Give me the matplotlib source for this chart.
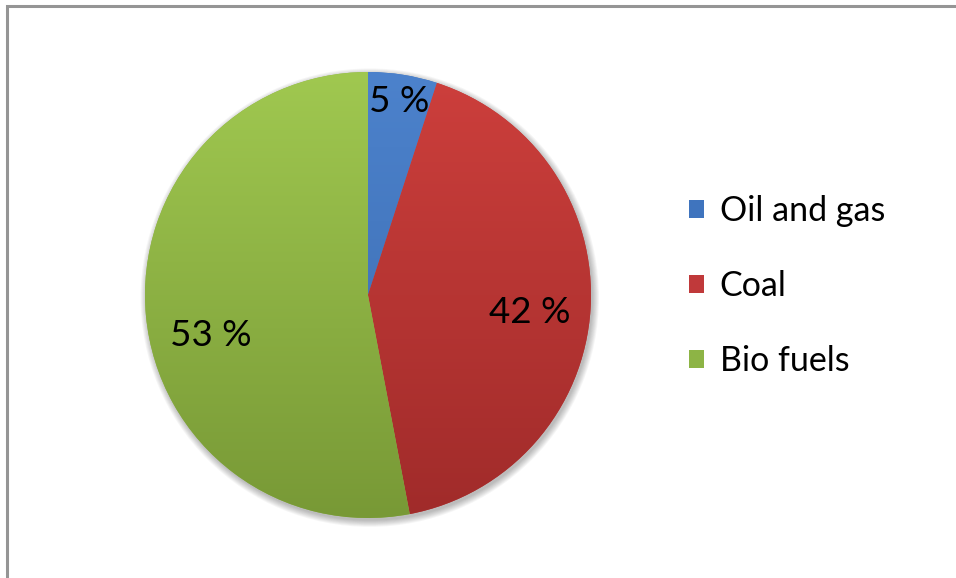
import numpy as np
import matplotlib
matplotlib.use("Agg")
import matplotlib.pyplot as plt
from matplotlib.colors import LinearSegmentedColormap
from matplotlib.patches import Patch, Rectangle, Circle

categories = ["Oil and gas", "Coal", "Bio fuels"]
shares = [5, 42, 53]
top_colors = ["#4C82CC", "#CD3F3C", "#A0C850"]
bottom_colors = ["#3A6AAE", "#A02B2A", "#789936"]
legend_colors = ["#3F74BE", "#C0393A", "#8DB445"]
# radial distance and angular nudge (degrees) for each percentage label
label_dist = [0.88, 0.73, 0.73]
label_nudge = [0, -2.5, 9]

plt.rcParams["font.family"] = ["Lato", "DejaVu Sans"]

W, H = 956, 578
fig = plt.figure(figsize=(W / 100, H / 100), dpi=100)
fig.patch.set_facecolor("white")

# chart frame (only the left and top edges fall inside the canvas)
fig.patches.append(Rectangle((7 / W, -0.1), 1.2, (H - 6) / H + 0.1,
                             transform=fig.transFigure, fill=False,
                             edgecolor="#959595", linewidth=2.2))

cx, cy, r = 368, H - 295, 223
lim = 1.1
ax = fig.add_axes([(cx - r * lim) / W, (cy - r * lim) / H,
                   2 * r * lim / W, 2 * r * lim / H])

# soft drop shadow under the pie
for i in range(8):
    ax.add_patch(Circle((0.008, -0.012), 1.0 + i * 0.004, facecolor="#000000",
                        alpha=0.035, edgecolor="none", zorder=0))

wedges, _ = ax.pie(shares, startangle=90, counterclock=False, radius=1.0,
                   colors=legend_colors, wedgeprops=dict(edgecolor="none"))

grad = np.linspace(0, 1, 256).reshape(-1, 1)
for w, c0, c1 in zip(wedges, top_colors, bottom_colors):
    cmap = LinearSegmentedColormap.from_list("g", [c0, c1])
    im = ax.imshow(grad, cmap=cmap, extent=(-1, 1, -1, 1), origin="upper",
                   aspect="auto", zorder=2, interpolation="bilinear")
    im.set_clip_path(w)
    w.set_zorder(1)
ax.set_xlim(-lim, lim)
ax.set_ylim(-lim, lim)
ax.set_aspect("equal")
ax.axis("off")

for w, v, d, nudge in zip(wedges, shares, label_dist, label_nudge):
    ang = np.deg2rad((w.theta1 + w.theta2) / 2 + nudge)
    ax.text(d * np.cos(ang), d * np.sin(ang), f"{v} %", ha="center",
            va="center", fontsize=26.5, color="black", zorder=5)

handles = [Patch(facecolor=c, edgecolor="none") for c in legend_colors]
fig.legend(handles, categories, loc="center left",
           bbox_to_anchor=(689 / W, (H - 286) / H), frameon=False,
           fontsize=24.5, handlelength=0.45, handleheight=0.45,
           handletextpad=0.45, labelspacing=1.26, borderpad=0, borderaxespad=0)

fig.savefig("out.png", dpi=100, facecolor="white")
